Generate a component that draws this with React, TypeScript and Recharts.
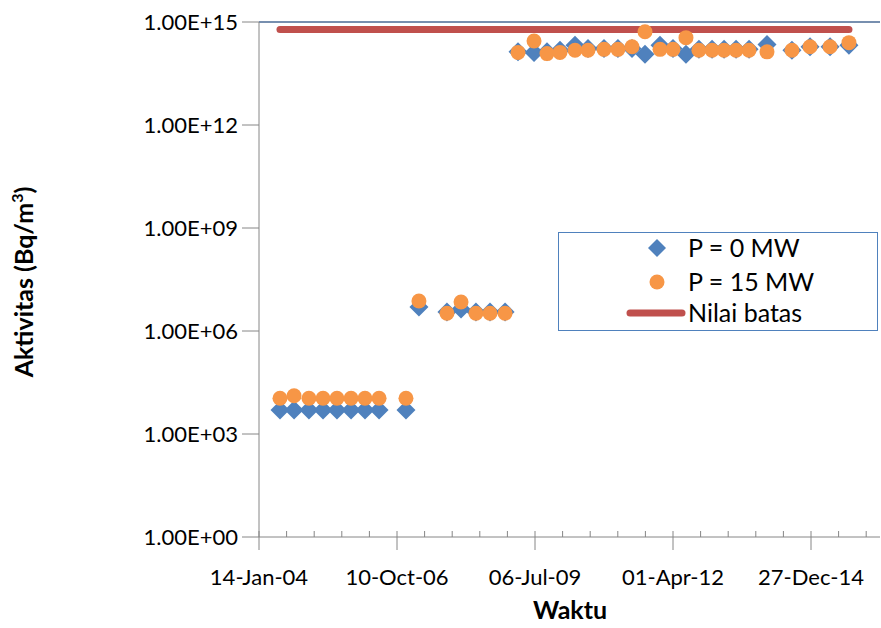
import { ComposedChart, Scatter, Line, XAxis, YAxis, ReferenceLine, Legend } from 'recharts'

const FONT = 'Lato, "Noto Sans", sans-serif'

// Excel date serials (days)
const dates = [
  38152, 38254, 38362, 38464, 38565, 38667, 38768, 38870, 39065,
  39159, 39362, 39464, 39572, 39674, 39783,
  39877, 39993, 40087, 40181, 40290, 40384, 40500, 40601, 40703, 40797, 40906,
  41000, 41094, 41188, 41283, 41370, 41457, 41551, 41681, 41862, 41993, 42138, 42275,
]

// P = 0 MW
const p0 = [
  5e3, 5e3, 5e3, 5e3, 5e3, 5e3, 5e3, 5e3, 5e3,
  5e6, 3.6e6, 4.4e6, 3.6e6, 3.6e6, 3.6e6,
  1.35e14, 1.3e14, 1.35e14, 1.5e14, 2.1e14, 1.7e14, 1.7e14, 1.7e14, 1.7e14, 1.15e14, 2.1e14,
  1.7e14, 1.15e14, 1.6e14, 1.6e14, 1.6e14, 1.6e14, 1.6e14, 2.2e14, 1.5e14, 1.9e14, 1.9e14, 2.1e14,
]

// P = 15 MW
const p15 = [
  1.1e4, 1.3e4, 1.1e4, 1.1e4, 1.1e4, 1.1e4, 1.1e4, 1.1e4, 1.1e4,
  7.5e6, 3.3e6, 7e6, 3.3e6, 3.3e6, 3.3e6,
  1.3e14, 2.8e14, 1.2e14, 1.3e14, 1.5e14, 1.5e14, 1.6e14, 1.6e14, 1.9e14, 5.2e14, 1.6e14,
  1.6e14, 3.5e14, 1.5e14, 1.5e14, 1.5e14, 1.5e14, 1.5e14, 1.35e14, 1.5e14, 1.9e14, 1.9e14, 2.5e14,
]

const limitValue = 6e14

// major every 1000 days, minor every 200
const xMajorTicks = [38000, 39000, 40000, 41000, 42000]
const xTickLabels = ['14-Jan-04', '10-Oct-06', '06-Jul-09', '01-Apr-12', '27-Dec-14']
const xAllTicks = Array.from({ length: 23 }, (_, i) => 38000 + i * 200)
const yTicks = [1, 1e3, 1e6, 1e9, 1e12, 1e15]
const yTickLabels = ['1.00E+00', '1.00E+03', '1.00E+06', '1.00E+09', '1.00E+12', '1.00E+15']

const p0Data = dates.map((x, i) => ({ x, y: p0[i] }))
const p15Data = dates.map((x, i) => ({ x, y: p15[i] }))
const limitData = [dates[0], dates[dates.length - 1]].map((x) => ({ x, y: limitValue }))

const AXIS = '#868686'

const Diamond = (props: any) => {
  const { cx, cy } = props
  if (cx == null || cy == null) return null
  const r = 9.5
  return <path d={`M${cx},${cy - r}L${cx + r},${cy}L${cx},${cy + r}L${cx - r},${cy}Z`} fill="#4F81BD" />
}

const Dot = (props: any) => {
  const { cx, cy } = props
  if (cx == null || cy == null) return null
  return <circle cx={cx} cy={cy} r={7.5} fill="#F79646" />
}

const XTick = (props: any) => {
  const { x, y, payload } = props
  const idx = xMajorTicks.indexOf(payload.value)
  if (idx < 0) return <line x1={x} x2={x} y1={y - 6} y2={y} stroke={AXIS} />
  return (
    <g>
      <line x1={x} x2={x} y1={y - 6} y2={y + 13} stroke={AXIS} />
      <text x={x} y={y + 48} textAnchor="middle" fontFamily={FONT} fontSize={22} fill="#000">
        {xTickLabels[idx]}
      </text>
    </g>
  )
}

const YTitle = () => (
  <text
    transform="translate(33,282) rotate(-90)"
    textAnchor="middle"
    fontFamily={FONT}
    fontWeight="bold"
    fontSize={25}
    fill="#000"
  >
    Aktivitas (Bq/m<tspan dy={-10} fontSize={16}>3</tspan>
    <tspan dy={10}>)</tspan>
  </text>
)

const XTitle = () => (
  <text x={570} y={619} textAnchor="middle" fontFamily={FONT} fontWeight="bold" fontSize={25} fill="#000">
    Waktu
  </text>
)

const LegendBox = () => (
  <svg width={320} height={99} style={{ display: 'block' }}>
    <rect x={0.5} y={0.5} width={319} height={98} fill="#fff" stroke="#4F81BD" />
    <path d="M99,7L108,16L99,25L90,16Z" fill="#4F81BD" />
    <circle cx={99} cy={50} r={7.5} fill="#F79646" />
    <line x1={72} y1={81} x2={124} y2={81} stroke="#C0504D" strokeWidth={7} strokeLinecap="round" />
    <g fontFamily={FONT} fontSize={25} fill="#000">
      <text x={130} y={25}>P = 0 MW</text>
      <text x={130} y={59}>P = 15 MW</text>
      <text x={130} y={90}>Nilai batas</text>
    </g>
  </svg>
)

export default function App() {
  return (
    <div style={{ position: 'absolute', left: 0, top: 0 }}>
      <ComposedChart width={881} height={628} margin={{ top: 22, right: 1, bottom: 0, left: 0 }}>
        <XAxis
          dataKey="x"
          type="number"
          domain={[38000, 42500]}
          ticks={xAllTicks}
          interval={0}
          tick={<XTick />}
          tickSize={0}
          tickMargin={0}
          tickLine={false}
          height={91}
          axisLine={{ stroke: AXIS }}
          label={<XTitle />}
          allowDataOverflow
        />
        <YAxis
          dataKey="y"
          type="number"
          scale="log"
          domain={[1, 1e15]}
          ticks={yTicks}
          tickFormatter={(v: number) => yTickLabels[yTicks.indexOf(v)] ?? ''}
          width={259}
          tickSize={17}
          tickMargin={4}
          axisLine={{ stroke: AXIS }}
          tickLine={{ stroke: AXIS }}
          tick={{ fontFamily: FONT, fontSize: 22, fill: '#000' }}
          label={<YTitle />}
          allowDataOverflow
        />
        <ReferenceLine y={1e15} stroke="#4A6A94" strokeWidth={1.5} />
        <Line
          data={limitData}
          dataKey="y"
          name="Nilai batas"
          stroke="#C0504D"
          strokeWidth={7}
          strokeLinecap="round"
          dot={false}
          activeDot={false}
          isAnimationActive={false}
        />
        <Scatter data={p0Data} dataKey="y" name="P = 0 MW" shape={<Diamond />} isAnimationActive={false} />
        <Scatter data={p15Data} dataKey="y" name="P = 15 MW" shape={<Dot />} isAnimationActive={false} />
        <Legend
          layout="vertical"
          align="center"
          verticalAlign="middle"
          content={<LegendBox />}
          wrapperStyle={{ position: 'absolute', left: 558, top: 232, width: 320, height: 99 }}
        />
      </ComposedChart>
    </div>
  )
}
